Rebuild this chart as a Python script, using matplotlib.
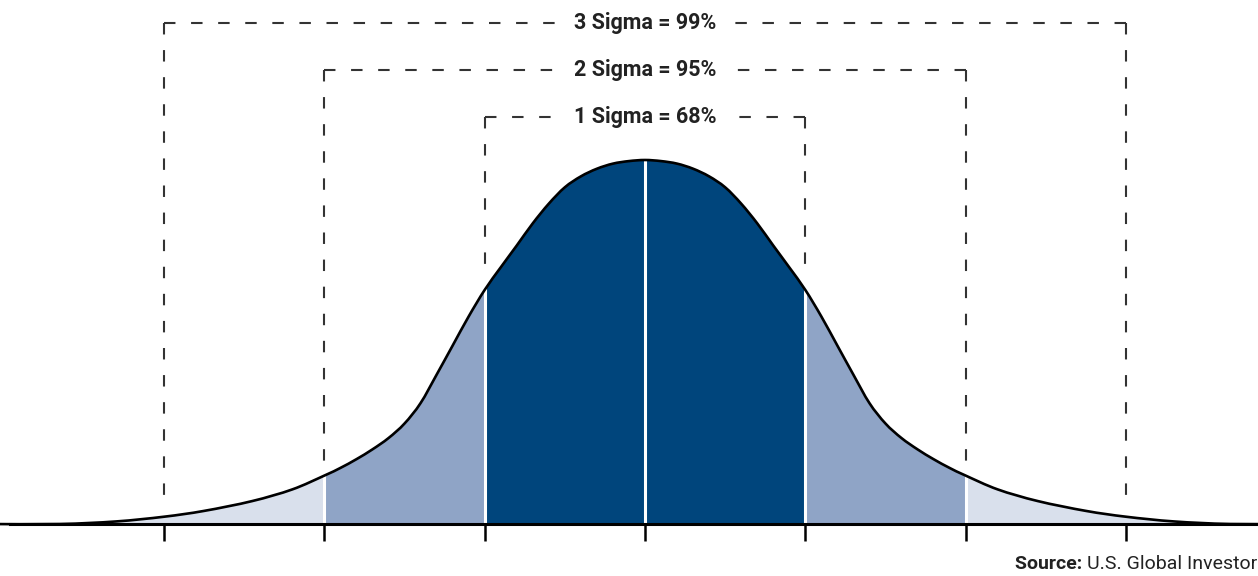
import numpy as np
import matplotlib
matplotlib.use("Agg")
import matplotlib.pyplot as plt
from matplotlib.patches import Rectangle, PathPatch
from matplotlib.path import Path

# curve: offset from the mean (in sigma) and height (share of the peak)
curve_sigma = [0.0, 0.1, 0.2, 0.3, 0.4, 0.5, 0.6, 0.7, 0.8, 0.9,
               1.0, 1.1, 1.2, 1.3, 1.4, 1.5, 1.6, 1.7, 1.8, 1.9,
               2.0, 2.2, 2.45, 2.75, 3.0, 3.3, 3.65, 4.1]
curve_height = [1.0, 0.997, 0.990, 0.976, 0.955, 0.925, 0.880, 0.826, 0.765, 0.705,
                0.643, 0.570, 0.490, 0.410, 0.332, 0.276, 0.236, 0.205, 0.178, 0.154,
                0.133, 0.095, 0.063, 0.036, 0.020, 0.007, 0.0, 0.0]

sigma_levels = [1, 2, 3]
coverage = ["68%", "95%", "99%"]
tick_positions = [-3, -2, -1, 0, 1, 2, 3]

DARK = "#00457c"
MID = "#8fa4c6"
LIGHT = "#d9e0ec"
DASH = "#333333"


def smooth_path(px, py, close_to_base=False):
    # Catmull-Rom through the read points, drawn as cubic Bezier segments
    pts = np.column_stack([px, py])
    verts = [pts[0]]
    codes = [Path.MOVETO]
    n = len(pts)
    for i in range(n - 1):
        p0 = pts[max(i - 1, 0)]
        p1 = pts[i]
        p2 = pts[i + 1]
        p3 = pts[min(i + 2, n - 1)]
        verts += [p1 + (p2 - p0) / 6, p2 - (p3 - p1) / 6, p2]
        codes += [Path.CURVE4] * 3
    if close_to_base:
        verts += [(px[-1], 0), (px[0], 0), (px[0], 0)]
        codes += [Path.LINETO, Path.LINETO, Path.CLOSEPOLY]
    return Path(verts, codes)


# full symmetric curve
xs = np.concatenate([-np.array(curve_sigma[::-1]), np.array(curve_sigma[1:])])
ys = np.concatenate([np.array(curve_height[::-1]), np.array(curve_height[1:])])

fig = plt.figure(figsize=(12.58, 5.76), dpi=100)
ax = fig.add_axes([0, 0, 1, 1])
ax.set_xlim(-645 / 160.33, 613 / 160.33)
ax.set_ylim(-52 / 364, 524 / 364)
ax.axis("off")

# ===============================
# FILLED AREAS
# ===============================
area = smooth_path(xs, ys, close_to_base=True)
for color, lo, hi, z in [(LIGHT, -5, 5, 1), (MID, -2, 2, 2), (DARK, -1, 1, 3)]:
    patch = PathPatch(area, fc=color, ec="none", zorder=z)
    ax.add_patch(patch)
    patch.set_clip_path(Rectangle((lo, -1), hi - lo, 3, transform=ax.transData))

# white separators, clipped to the area under the curve
seps = ax.vlines([-2, -1, 0, 1, 2], 0, 1.2, color="white", lw=2.2, zorder=4)
clip_patch = PathPatch(area, transform=ax.transData)
seps.set_clip_path(clip_patch)

ax.add_patch(PathPatch(smooth_path(xs, ys), fc="none", ec="black", lw=1.9,
                       zorder=5, capstyle="round"))

# baseline and ticks
ax.plot([-635 / 160.33, 613 / 160.33], [0, 0], color="black", lw=2.2, zorder=6)
ax.vlines(tick_positions, -0.047, 0, color="black", lw=1.8, zorder=6)

# ===============================
# SIGMA BRACKETS
# ===============================
tops = {1: (524 - 117) / 364, 2: (524 - 70) / 364, 3: (524 - 23) / 364}
dash_style = (0, (5.5, 7.5))
for k, pct in zip(sigma_levels, coverage):
    top = tops[k]
    bottom = np.interp(k, curve_sigma, curve_height) + 0.03
    for side in (-1, 1):
        ax.plot([side * k, side * k], [top, bottom], color=DASH, lw=1.5,
                linestyle=dash_style, zorder=7)
        ax.plot([side * k, 0], [top, top], color=DASH, lw=1.5,
                linestyle=dash_style, zorder=7)
    ax.text(0, top, f"{k} Sigma = {pct}", ha="center", va="center",
            fontsize=15.5, fontweight="bold", family="Roboto", color="#222222",
            zorder=8,
            bbox=dict(boxstyle="square,pad=0.7", fc="white", ec="none"))

# source note
src = fig.text(0.9995, 0.006, "U.S. Global Investor", ha="right", va="bottom",
               fontsize=14, family="Roboto", color="#222222")
fig.canvas.draw()
ax.annotate("Source: ", xy=(0, 0), xycoords=src, ha="right", va="bottom",
            fontsize=14, fontweight="bold", family="Roboto", color="#222222")

fig.savefig("out.png", dpi=100, facecolor="white")
